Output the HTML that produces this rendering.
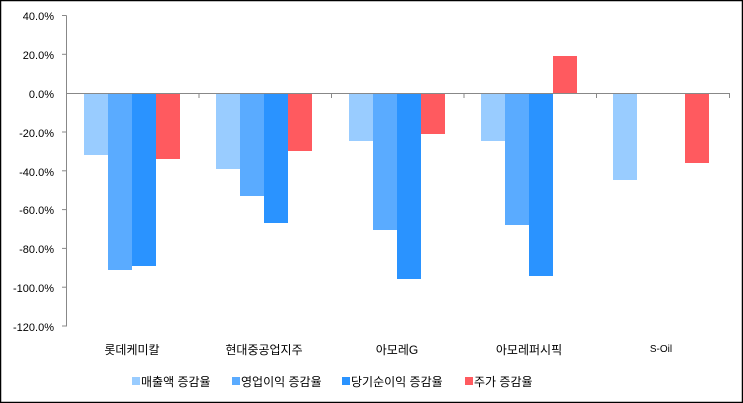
<!DOCTYPE html><html><head><meta charset="utf-8"><style>body{margin:0;background:#fff}svg{display:block}text{font-family:"Liberation Sans","Noto Sans CJK KR",sans-serif;fill:#000}</style></head><body>
<svg width="743" height="403" xmlns="http://www.w3.org/2000/svg">
<rect x="0.5" y="0.5" width="742" height="402" fill="#fff" stroke="#000" stroke-width="1.5"/>
<g font-size="11" text-anchor="end">
<text x="54" y="20">40.0%</text><text x="54" y="59">20.0%</text><text x="54" y="98">0.0%</text>
<text x="54" y="137">-20.0%</text><text x="54" y="176">-40.0%</text><text x="54" y="214">-60.0%</text>
<text x="54" y="253">-80.0%</text><text x="54" y="292">-100.0%</text><text x="54" y="331">-120.0%</text>
</g>
<g stroke="#888" stroke-width="1">
<line x1="66.5" y1="15.5" x2="66.5" y2="326.5"/>
<line x1="62" y1="15.5" x2="66.5" y2="15.5"/><line x1="62" y1="54.3" x2="66.5" y2="54.3"/>
<line x1="62" y1="132" x2="66.5" y2="132"/><line x1="62" y1="170.8" x2="66.5" y2="170.8"/>
<line x1="62" y1="209.6" x2="66.5" y2="209.6"/><line x1="62" y1="248.4" x2="66.5" y2="248.4"/>
<line x1="62" y1="287.2" x2="66.5" y2="287.2"/><line x1="62" y1="326" x2="66.5" y2="326"/>
</g>
<g>
<rect x="84" y="93" width="24" height="62" fill="#99ccff"/><rect x="108" y="93" width="24" height="177" fill="#5aabff"/><rect x="132" y="93" width="24" height="173" fill="#2a93ff"/><rect x="156" y="93" width="24" height="66" fill="#ff5a5f"/>
<rect x="216" y="93" width="24" height="76" fill="#99ccff"/><rect x="240" y="93" width="24" height="103" fill="#5aabff"/><rect x="264" y="93" width="24" height="130" fill="#2a93ff"/><rect x="288" y="93" width="24" height="58" fill="#ff5a5f"/>
<rect x="349" y="93" width="24" height="48" fill="#99ccff"/><rect x="373" y="93" width="24" height="137" fill="#5aabff"/><rect x="397" y="93" width="24" height="186" fill="#2a93ff"/><rect x="421" y="93" width="24" height="41" fill="#ff5a5f"/>
<rect x="481" y="93" width="24" height="48" fill="#99ccff"/><rect x="505" y="93" width="24" height="132" fill="#5aabff"/><rect x="529" y="93" width="24" height="183" fill="#2a93ff"/><rect x="553" y="56" width="24" height="37" fill="#ff5a5f"/>
<rect x="613" y="93" width="24" height="87" fill="#99ccff"/><rect x="685" y="93" width="24" height="70" fill="#ff5a5f"/>
</g>
<g stroke="#888" stroke-width="1">
<line x1="66.5" y1="93.5" x2="730" y2="93.5"/>
<line x1="199" y1="93.5" x2="199" y2="98"/><line x1="331.5" y1="93.5" x2="331.5" y2="98"/><line x1="464" y1="93.5" x2="464" y2="98"/><line x1="596.5" y1="93.5" x2="596.5" y2="98"/><line x1="729.5" y1="93.5" x2="729.5" y2="98"/>
</g>
<g font-size="12" text-anchor="middle">
<text x="132" y="354">롯데케미칼</text><text x="264" y="354">현대중공업지주</text><text x="397" y="354">아모레G</text><text x="529" y="354">아모레퍼시픽</text><text x="661" y="352" font-size="10">S-Oil</text>
</g>
<g font-size="12">
<rect x="132" y="377" width="8" height="8" fill="#99ccff"/><text x="141" y="386">매출액 증감율</text>
<rect x="232" y="377" width="8" height="8" fill="#5aabff"/><text x="241" y="386">영업이익 증감율</text>
<rect x="342" y="377" width="8" height="8" fill="#2a93ff"/><text x="351" y="386">당기순이익 증감율</text>
<rect x="465" y="377" width="8" height="8" fill="#ff5a5f"/><text x="474" y="386">주가 증감율</text>
</g>
</svg></body></html>
